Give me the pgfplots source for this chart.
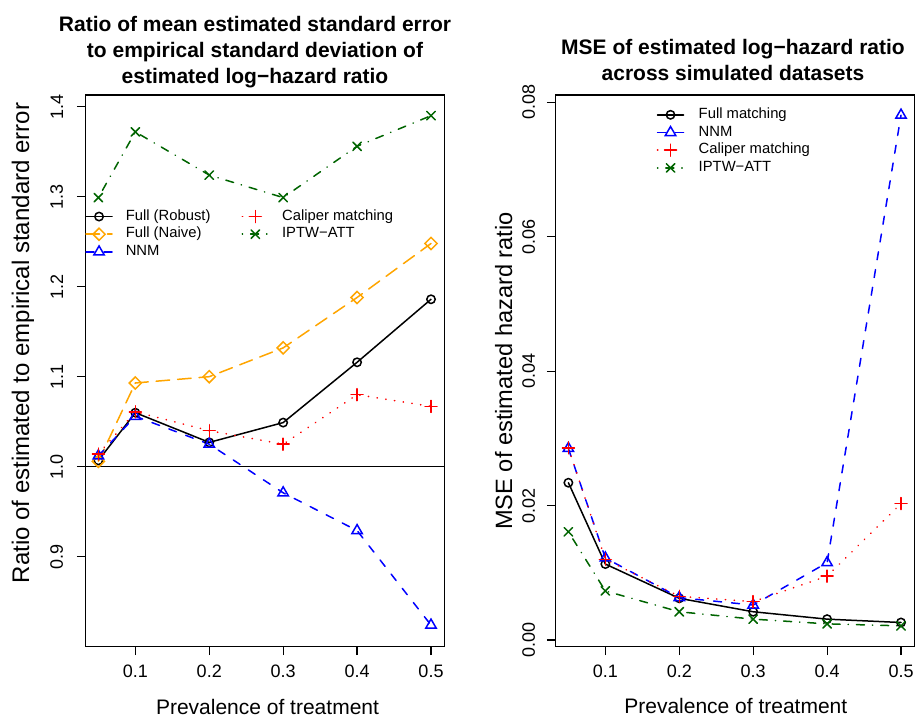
\documentclass[border=0pt]{standalone}
\usepackage{fontspec}
\setmainfont{Liberation Sans}
\usepackage{pgfplots}
\pgfplotsset{compat=1.18}
\definecolor{rorange}{RGB}{255,165,0}
\definecolor{rgreen}{RGB}{0,100,0}
\newcommand{\tickfont}{\fontsize{18bp}{20bp}\selectfont}
\newcommand{\labfont}{\fontsize{21bp}{24bp}\selectfont}
\newcommand{\legfont}{\fontsize{14.8bp}{17.7bp}\selectfont}
\pgfplotsset{
  rbase/.style={
    scale only axis, width=359bp, height=551.7bp,
    xmin=0.0323, xmax=0.518,
    axis line style={line width=1.2bp},
    every tick/.style={line width=1.2bp, black},
    tick align=outside, major tick length=8.5bp,
    tick pos=left,
    scaled ticks=false,
    xtick={0.1,0.2,0.3,0.4,0.5},
    xticklabels={0.1,0.2,0.3,0.4,0.5},
    xticklabel style={font=\tickfont, anchor=north, inner sep=0pt},
    yticklabel style={font=\tickfont, rotate=90, anchor=south, inner sep=0pt},
    legend image code/.code={\draw[mark repeat=2,mark phase=2,#1] plot coordinates {(0bp,0bp) (13bp,0bp) (26bp,0bp)};},
    legend cell align=left,
  },
  sRob/.style={black, solid, line width=1.5bp, line cap=round, mark=o, mark size=4.2bp, mark options={solid, line width=1.5bp}},
  sNai/.style={rorange, dash pattern=on 13.5bp off 8bp, line width=1.5bp, line cap=round, mark=square, mark size=4.3bp, mark options={solid, rotate=45, line width=1.5bp}},
  sNNM/.style={blue, dash pattern=on 8bp off 10bp, line width=1.5bp, line cap=round, mark=triangle, mark size=6bp, mark options={solid, line width=1.5bp}},
  sCal/.style={red, dash pattern=on 0.3bp off 8.5bp, line width=1.6bp, line cap=round, mark=+, mark size=6bp, mark options={solid, line width=1.5bp}},
  sIPTW/.style={rgreen, dash pattern=on 0.3bp off 8bp on 8bp off 8bp, line width=1.5bp, line cap=round, mark=x, mark size=6bp, mark options={solid, line width=1.5bp}},
}
\begin{document}
\begin{tikzpicture}[x=1bp,y=1bp]
\path[use as bounding box] (0,0) rectangle (918,720);
% ---------------- left panel ----------------
\begin{axis}[rbase,
  at={(85.3bp,73.3bp)}, anchor=south west,
  ymin=0.8, ymax=1.413,
  ytick={0.9,1.0,1.1,1.2,1.3,1.4},
  yticklabels={0.9,1.0,1.1,1.2,1.3,1.4},
  yticklabel shift=13.5bp,
  xticklabel shift=10bp,
  legend columns=2,
  legend style={at={(0,0.7928)}, anchor=north west, draw=none, fill=none,
    inner sep=0pt, outer sep=0pt, font=\legfont,
    nodes={inner sep=0pt, text height=11bp, text depth=3.5bp},
    row sep=3.2bp,
    /tikz/every odd column/.append style={column sep=13bp},
    /tikz/every even column/.append style={column sep=31bp}},
]
\addplot[black, line width=1bp, forget plot] coordinates {(0.0323,1.0) (0.518,1.0)};
\addplot[sRob, forget plot] coordinates {(0.05,1.007) (0.1,1.060) (0.2,1.027) (0.3,1.049) (0.4,1.116) (0.5,1.186)};
\addplot[sNai, forget plot] coordinates {(0.05,1.006) (0.1,1.093) (0.2,1.100) (0.3,1.132) (0.4,1.188) (0.5,1.248)};
\addplot[sNNM, forget plot] coordinates {(0.05,1.012) (0.1,1.056) (0.2,1.025) (0.3,0.971) (0.4,0.929) (0.5,0.824)};
\addplot[sCal, forget plot] coordinates {(0.05,1.014) (0.1,1.061) (0.2,1.040) (0.3,1.025) (0.4,1.080) (0.5,1.067)};
\addplot[sIPTW, forget plot] coordinates {(0.05,1.299) (0.1,1.372) (0.2,1.324) (0.3,1.299) (0.4,1.356) (0.5,1.390)};
\addlegendimage{sRob}\addlegendentry{Full (Robust)}
\addlegendimage{sCal}\addlegendentry{Caliper matching}
\addlegendimage{sNai}\addlegendentry{Full (Naive)}
\addlegendimage{sIPTW}\addlegendentry{IPTW−ATT}
\addlegendimage{sNNM}\addlegendentry{NNM}
\end{axis}
% ---------------- right panel ----------------
\begin{axis}[rbase,
  at={(555.3bp,73.3bp)}, anchor=south west,
  ymin=-0.001, ymax=0.0811,
  ytick={0,0.02,0.04,0.06,0.08},
  yticklabels={0.00,0.02,0.04,0.06,0.08},
  yticklabel shift=11.5bp,
  xticklabel shift=10bp,
  legend style={at={(0.2825,0.9772)}, anchor=north west, draw=none, fill=none,
    inner sep=0pt, outer sep=0pt, font=\legfont,
    nodes={inner sep=0pt, text height=11bp, text depth=3.5bp},
    row sep=3.2bp,
    /tikz/every odd column/.append style={column sep=14.4bp}},
]
\addplot[sRob] coordinates {(0.05,0.0234) (0.1,0.0113) (0.2,0.0062) (0.3,0.0042) (0.4,0.0031) (0.5,0.0026)};
\addlegendentry{Full matching}
\addplot[sNNM] coordinates {(0.05,0.0285) (0.1,0.0122) (0.2,0.0063) (0.3,0.0052) (0.4,0.0115) (0.5,0.0781)};
\addlegendentry{NNM}
\addplot[sCal] coordinates {(0.05,0.0286) (0.1,0.0120) (0.2,0.0065) (0.3,0.0057) (0.4,0.0095) (0.5,0.0203)};
\addlegendentry{Caliper matching}
\addplot[sIPTW] coordinates {(0.05,0.0161) (0.1,0.0073) (0.2,0.0042) (0.3,0.0031) (0.4,0.0024) (0.5,0.0021)};
\addlegendentry{IPTW−ATT}
\end{axis}
% ---------------- titles and labels ----------------
\begin{scope}[font=\fontsize{21bp}{26bp}\selectfont\bfseries]
\node[anchor=base, inner sep=0pt] at (255,688.3) {Ratio of mean estimated standard error};
\node[anchor=base, inner sep=0pt] at (255,662.3) {to empirical standard deviation of};
\node[anchor=base, inner sep=0pt] at (255,636.3) {estimated log−hazard ratio};
\node[anchor=base, inner sep=0pt] at (733,665) {MSE of estimated log−hazard ratio};
\node[anchor=base, inner sep=0pt] at (733,639) {across simulated datasets};
\end{scope}
\node[anchor=base, inner sep=0pt, font=\labfont] at (267.5,5.5) {Prevalence of treatment};
\node[anchor=base, inner sep=0pt, font=\labfont] at (735.8,6) {Prevalence of treatment};
\node[anchor=base, inner sep=0pt, rotate=90, font=\fontsize{24bp}{28bp}\selectfont] at (29,377) {Ratio of estimated to empirical standard error};
\node[anchor=base, inner sep=0pt, rotate=90, font=\fontsize{23.6bp}{28bp}\selectfont] at (512,349) {MSE of estimated hazard ratio};
\end{tikzpicture}
\end{document}
